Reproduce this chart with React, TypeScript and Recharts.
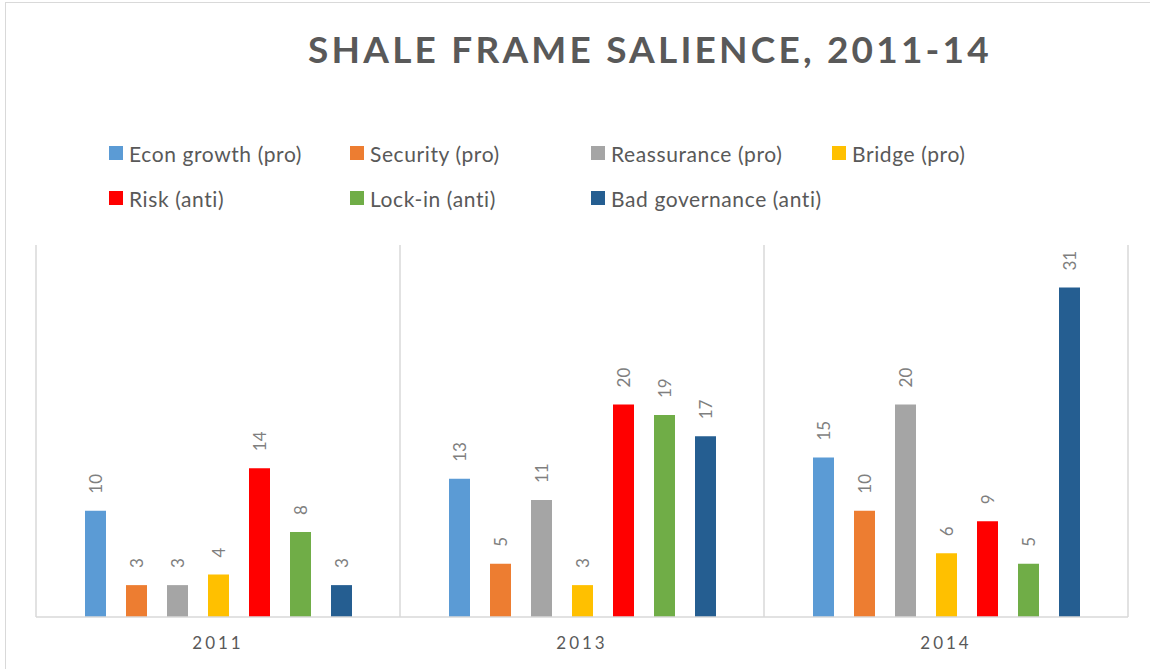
import { Bar, BarChart, CartesianGrid, LabelList, XAxis, YAxis } from "recharts";

const years = ["2011", "2013", "2014"];

const seriesNames = [
  "Econ growth (pro)",
  "Security (pro)",
  "Reassurance (pro)",
  "Bridge (pro)",
  "Risk (anti)",
  "Lock-in (anti)",
  "Bad governance (anti)",
];

const seriesColors = [
  "#5B9BD5",
  "#ED7D31",
  "#A5A5A5",
  "#FFC000",
  "#FF0000",
  "#70AD47",
  "#255E91",
];

const econGrowth = [10, 13, 15];
const security = [3, 5, 10];
const reassurance = [3, 11, 20];
const bridge = [4, 3, 6];
const risk = [14, 20, 9];
const lockIn = [8, 19, 5];
const badGovernance = [3, 17, 31];

const seriesValues = [econGrowth, security, reassurance, bridge, risk, lockIn, badGovernance];

const chartData = years.map((year, i) => {
  const row: Record<string, string | number> = { year };
  seriesValues.forEach((values, s) => {
    row[`s${s}`] = values[i];
  });
  return row;
});

const FONT = "Lato, 'Open Sans', sans-serif";
const TEXT_GRAY = "#595959";

type LabelProps = {
  x?: number;
  y?: number;
  width?: number;
  value?: number | string;
};

function VerticalLabel({ x = 0, y = 0, width = 0, value }: LabelProps) {
  const cx = x + width / 2;
  const ty = y - 17;
  return (
    <text
      x={cx}
      y={ty}
      transform={`rotate(-90, ${cx}, ${ty})`}
      textAnchor="start"
      dominantBaseline="central"
      fill="#7F7F7F"
      fontSize={17}
      fontFamily={FONT}
    >
      {value}
    </text>
  );
}

function LegendBlock() {
  const rows = [seriesNames.slice(0, 4), seriesNames.slice(4)];
  return (
    <div style={{ position: "absolute", left: 109, top: 140 }}>
      {rows.map((row, r) => (
        <div key={r} style={{ display: "flex", height: 45 }}>
          {row.map((name, c) => {
            const idx = r * 4 + c;
            return (
              <div
                key={name}
                style={{ width: 241, display: "flex", alignItems: "center", height: 26 }}
              >
                <span
                  style={{
                    width: 14,
                    height: 14,
                    background: seriesColors[idx],
                    marginRight: 6,
                    flexShrink: 0,
                  }}
                />
                <span
                  style={{
                    fontFamily: FONT,
                    fontSize: 21,
                    letterSpacing: 0.6,
                    color: TEXT_GRAY,
                    whiteSpace: "nowrap",
                  }}
                >
                  {name}
                </span>
              </div>
            );
          })}
        </div>
      ))}
    </div>
  );
}

export default function App() {
  return (
    <div
      style={{
        position: "absolute",
        left: 0,
        top: 0,
        width: 1150,
        height: 669,
        background: "#fff",
        overflow: "hidden",
      }}
    >
      <div
        style={{
          position: "absolute",
          left: 5,
          top: 2,
          width: 1160,
          height: 680,
          border: "1.5px solid #d9d9d9",
          boxSizing: "border-box",
        }}
      />
      <div
        style={{
          position: "absolute",
          left: 0,
          width: 1300,
          top: 24,
          textAlign: "center",
          fontFamily: FONT,
          fontWeight: 700,
          fontSize: 37,
          letterSpacing: 3.2,
          color: TEXT_GRAY,
          lineHeight: "50px",
        }}
      >
        SHALE FRAME SALIENCE, 2011-14
      </div>
      <LegendBlock />
      <div style={{ position: "absolute", left: 0, top: 0 }}>
        <BarChart
          width={1150}
          height={669}
          data={chartData}
          margin={{ top: 245, right: 22, left: 36, bottom: 22 }}
          barSize={21}
          barGap={20}
        >
          <CartesianGrid
            horizontal={false}
            stroke="#d9d9d9"
            strokeWidth={1.5}
            verticalCoordinatesGenerator={({ offset }: any) =>
              years.map((_, i) => offset.left + (offset.width * i) / years.length).concat(offset.left + offset.width)
            }
          />
          <XAxis
            dataKey="year"
            height={30}
            tickLine={false}
            axisLine={{ stroke: "#d9d9d9", strokeWidth: 1.5 }}
            tick={{ fill: TEXT_GRAY, fontSize: 17, fontFamily: FONT, letterSpacing: 3 }}
            tickMargin={14}
          />
          <YAxis hide domain={[0, 35]} />
          {seriesNames.map((name, s) => (
            <Bar
              key={name}
              dataKey={`s${s}`}
              name={name}
              fill={seriesColors[s]}
              isAnimationActive={false}
            >
              <LabelList dataKey={`s${s}`} content={<VerticalLabel />} />
            </Bar>
          ))}
        </BarChart>
      </div>
    </div>
  );
}
